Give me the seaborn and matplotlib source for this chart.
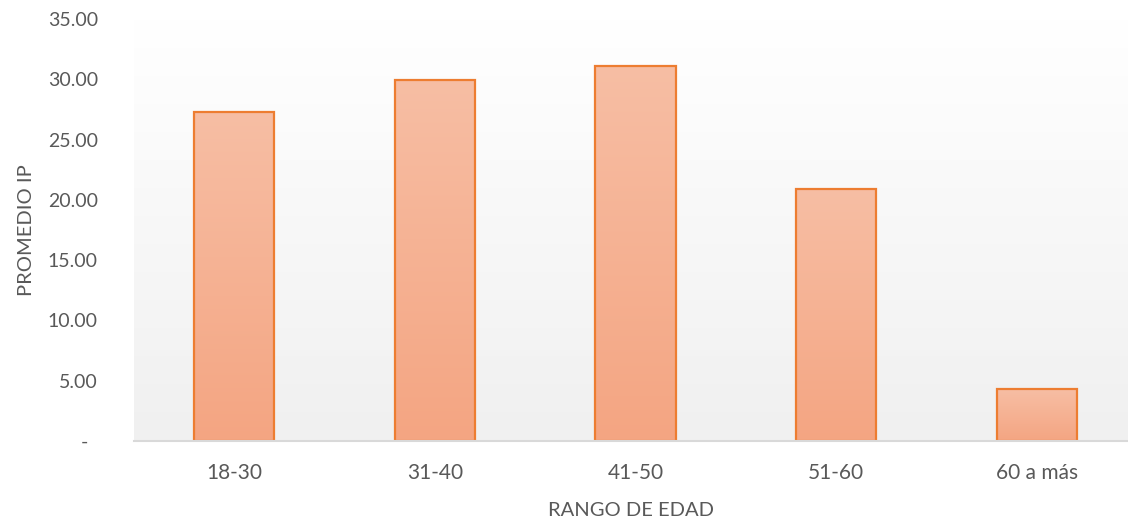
import numpy as np
import pandas as pd
import matplotlib
matplotlib.use("Agg")
import matplotlib.pyplot as plt
import seaborn as sns
from matplotlib.colors import LinearSegmentedColormap

categories = ["18-30", "31-40", "41-50", "51-60", "60 a más"]
values = [27.27, 29.95, 31.10, 20.88, 4.30]
yticks = [0, 5, 10, 15, 20, 25, 30, 35]
ytick_labels = ["-  ", "5.00", "10.00", "15.00", "20.00", "25.00", "30.00", "35.00"]

sns.set_theme(style="white")
plt.rcParams["font.family"] = ["Lato", "DejaVu Sans"]

df = pd.DataFrame({"rango": categories, "promedio": values})

fig = plt.figure(figsize=(11.28, 5.2), dpi=100)
ax = fig.add_axes([134 / 1128, 79 / 520, (1128 - 134) / 1128, (441 - 19) / 520])

sns.barplot(data=df, x="rango", y="promedio", width=0.4, color="#F5B092",
            edgecolor="#ED7D31", linewidth=1.6, ax=ax, zorder=3)

ax.set_ylim(0, 35)
ax.set_xlim(-0.5, 4.455)

# background gradient
bg_cmap = LinearSegmentedColormap.from_list("bg", ["#F0F0F0", "#FFFFFF"])
grad = np.linspace(0, 1, 256).reshape(-1, 1)
ax.imshow(grad, extent=[0, 1, 0, 1], transform=ax.transAxes, cmap=bg_cmap,
          aspect="auto", origin="lower", zorder=0)

# bar gradient fill
bar_cmap = LinearSegmentedColormap.from_list("bar", ["#F4A582", "#F7BEA4"])
for p in ax.patches:
    x0, y0 = p.get_x(), p.get_y()
    w, h = p.get_width(), p.get_height()
    im = ax.imshow(grad, extent=[x0, x0 + w, y0, y0 + h], cmap=bar_cmap,
                   aspect="auto", origin="lower", zorder=2.5)
    im.set_clip_path(p)
    p.set_facecolor("none")
    p.set_zorder(4)
ax.set_xlim(-0.5, 4.455)
ax.set_ylim(0, 35)

ax.set_yticks(yticks)
ax.set_yticklabels(ytick_labels)
ax.tick_params(axis="both", length=0, colors="#595959")
ax.tick_params(axis="y", pad=26, labelsize=14)
ax.tick_params(axis="x", pad=16, labelsize=15)

for s in ["top", "right", "left"]:
    ax.spines[s].set_visible(False)
ax.spines["bottom"].set_color("#D9D9D9")
ax.spines["bottom"].set_linewidth(1.5)
ax.spines["bottom"].set_zorder(5)

ax.set_xlabel("RANGO DE EDAD", color="#595959", fontsize=14.5, labelpad=13.5)
ax.set_ylabel("PROMEDIO IP", color="#595959", fontsize=14.5, labelpad=9)
ax.grid(False)

fig.savefig("out.png", dpi=100)
